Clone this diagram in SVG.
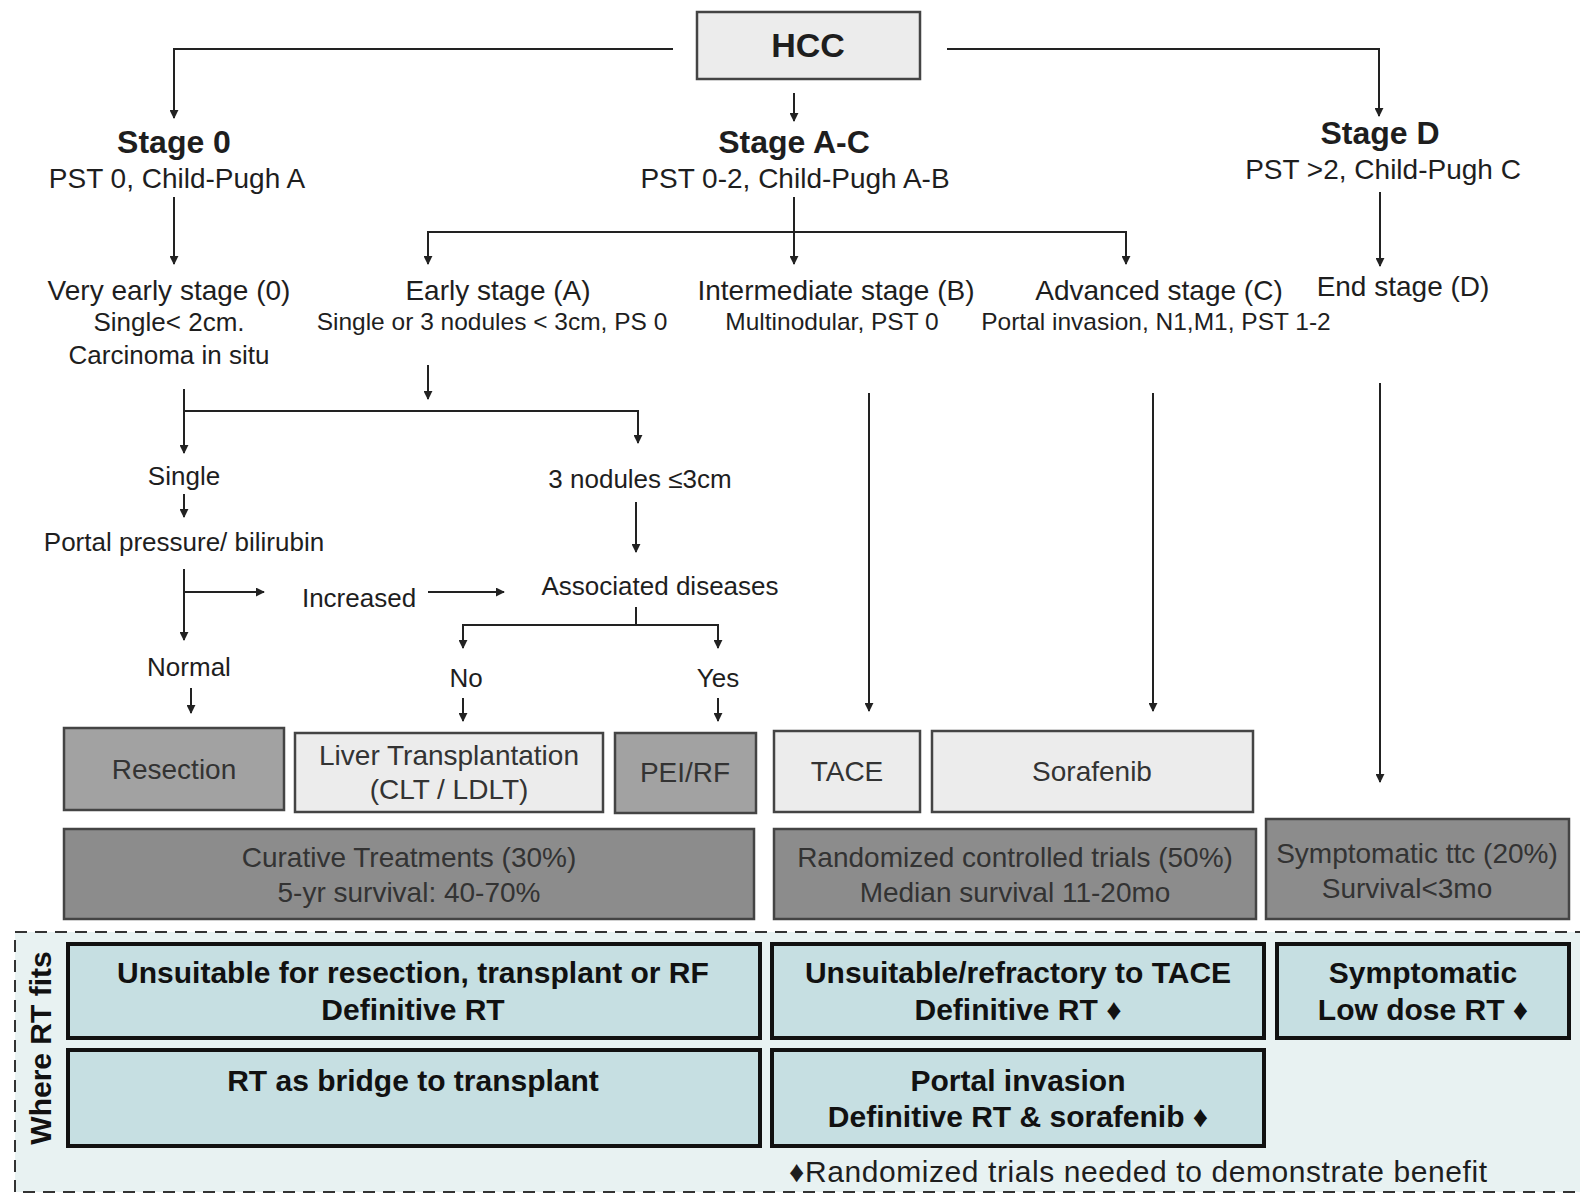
<svg xmlns="http://www.w3.org/2000/svg" width="1580" height="1195" viewBox="0 0 1580 1195">
<defs>
<marker id="ah" viewBox="0 0 10 10" refX="9" refY="5" markerWidth="9" markerHeight="9" markerUnits="userSpaceOnUse" orient="auto">
<path d="M0,0 L10,5 L0,10 z" fill="#222"/>
</marker>
<style>
text{font-family:"Liberation Sans",Arial,Helvetica,sans-serif;text-anchor:middle;fill:#1e1e1e}
.b{font-weight:bold}
.t28{font-size:28px}
.t26{font-size:26px}
.t24{font-size:24.5px}
.h{font-size:32px;font-weight:bold}
.bx{font-size:28px;fill:#333}
.rt{font-size:30px;font-weight:bold;fill:#111}
.c{fill:none;stroke:#222;stroke-width:2}
.a{marker-end:url(#ah)}
.light{fill:#ececec;stroke:#444;stroke-width:2.5}
.mid{fill:#a2a2a2;stroke:#444;stroke-width:2.5}
.dark{fill:#8c8c8c;stroke:#444;stroke-width:2.5}
.blue{fill:#c6dfe2;stroke:#111;stroke-width:4}
</style>
</defs>
<rect width="1580" height="1195" fill="#fff"/>
<rect id="rt-zone" x="15" y="932" width="1580" height="260" fill="#e8f2f2" stroke="#333" stroke-width="2" stroke-dasharray="12,8"/>
<g id="connectors">
<path class="c a" d="M673 49 H174 V118"/>
<path class="c a" d="M947 49 H1379 V116"/>
<path class="c a" d="M794 93 V121"/>
<path class="c a" d="M174 197 V264"/>
<path class="c a" d="M794 197 V264"/>
<path class="c a" d="M794 232 H428 V264"/>
<path class="c a" d="M794 232 H1126 V264"/>
<path class="c a" d="M1380 192 V266"/>
<path class="c a" d="M428 365 V399"/>
<path class="c a" d="M184 389 V453"/>
<path class="c a" d="M184 411 H638 V443"/>
<path class="c a" d="M184 494 V517"/>
<path class="c a" d="M636 502 V552"/>
<path class="c a" d="M184 569 V640"/>
<path class="c a" d="M184 592 H264"/>
<path class="c a" d="M428 592 H504"/>
<path class="c" d="M636 607 V625"/>
<path class="c a" d="M636 625 H463 V648"/>
<path class="c a" d="M636 625 H718 V648"/>
<path class="c a" d="M191 688 V713"/>
<path class="c a" d="M463 698 V721"/>
<path class="c a" d="M718 698 V721"/>
<path class="c a" d="M869 393 V711"/>
<path class="c a" d="M1153 393 V711"/>
<path class="c a" d="M1380 383 V782"/>
</g>
<g id="hcc"><rect class="light" x="697" y="12" width="223" height="67"/><text class="b" x="808" y="57" font-size="34">HCC</text></g>
<g id="stage0"><text class="h" x="174" y="153">Stage 0</text><text class="t28" x="177" y="188">PST 0, Child-Pugh A</text></g>
<g id="stageAC"><text class="h" x="794" y="153">Stage A-C</text><text class="t28" x="795" y="188">PST 0-2, Child-Pugh A-B</text></g>
<g id="stageD"><text class="h" x="1380" y="144">Stage D</text><text class="t28" x="1383" y="179">PST &gt;2, Child-Pugh C</text></g>
<g id="very-early"><text class="t28" x="169" y="300">Very early stage (0)</text><text class="t26" x="169" y="331">Single&lt; 2cm.</text><text class="t26" x="169" y="364">Carcinoma in situ</text></g>
<g id="early"><text class="t28" x="498" y="300">Early stage (A)</text><text class="t24" x="492" y="330">Single or 3 nodules &lt; 3cm, PS 0</text></g>
<g id="intermediate"><text class="t28" x="836" y="300">Intermediate stage (B)</text><text class="t24" x="832" y="330">Multinodular, PST 0</text></g>
<g id="advanced"><text class="t28" x="1159" y="300">Advanced stage (C)</text><text class="t24" x="1156" y="330">Portal invasion, N1,M1, PST 1-2</text></g>
<g id="end-stage"><text class="t28" x="1403" y="296">End stage (D)</text></g>
<g id="single"><text class="t26" x="184" y="485">Single</text></g>
<g id="portal-pressure"><text class="t26" x="184" y="551">Portal pressure/ bilirubin</text></g>
<g id="three-nodules"><text class="t26" x="640" y="488">3 nodules ≤3cm</text></g>
<g id="associated"><text class="t26" x="660" y="595">Associated diseases</text></g>
<g id="increased"><text class="t26" x="359" y="607">Increased</text></g>
<g id="normal"><text class="t26" x="189" y="676">Normal</text></g>
<g id="no"><text class="t26" x="466" y="687">No</text></g>
<g id="yes"><text class="t26" x="718" y="687">Yes</text></g>
<g id="resection"><rect class="mid" x="64" y="728" width="220" height="82"/><text class="bx" x="174" y="779">Resection</text></g>
<g id="liver-tx"><rect class="light" x="295" y="733" width="308" height="79"/><text class="bx" x="449" y="765">Liver Transplantation</text><text class="bx" x="449" y="799">(CLT / LDLT)</text></g>
<g id="pei-rf"><rect class="mid" x="615" y="733" width="141" height="80"/><text class="bx" x="685" y="782">PEI/RF</text></g>
<g id="tace"><rect class="light" x="774" y="731" width="146" height="81"/><text class="bx" x="847" y="781">TACE</text></g>
<g id="sorafenib"><rect class="light" x="932" y="731" width="321" height="81"/><text class="bx" x="1092" y="781">Sorafenib</text></g>
<g id="curative"><rect class="dark" x="64" y="829" width="690" height="90"/><text class="bx" x="409" y="867">Curative Treatments (30%)</text><text class="bx" x="409" y="902">5-yr survival: 40-70%</text></g>
<g id="rct"><rect class="dark" x="774" y="829" width="482" height="90"/><text class="bx" x="1015" y="867">Randomized controlled trials (50%)</text><text class="bx" x="1015" y="902">Median survival 11-20mo</text></g>
<g id="symptomatic-ttc"><rect class="dark" x="1266" y="819" width="303" height="100"/><text class="bx" x="1417" y="863">Symptomatic ttc (20%)</text><text class="bx" x="1407" y="898">Survival&lt;3mo</text></g>
<g id="where-rt"><text class="rt" transform="translate(51,1048) rotate(-90)">Where RT fits</text></g>
<g id="rt-unsuitable"><rect class="blue" x="68" y="944" width="692" height="94"/><text class="rt" x="413" y="983">Unsuitable for resection, transplant or RF</text><text class="rt" x="413" y="1020">Definitive RT</text></g>
<g id="rt-bridge"><rect class="blue" x="68" y="1050" width="692" height="96"/><text class="rt" x="413" y="1091">RT as bridge to transplant</text></g>
<g id="rt-tace"><rect class="blue" x="772" y="944" width="492" height="94"/><text class="rt" x="1018" y="983">Unsuitable/refractory to TACE</text><text class="rt" x="1018" y="1020">Definitive RT ♦</text></g>
<g id="rt-portal"><rect class="blue" x="772" y="1050" width="492" height="96"/><text class="rt" x="1018" y="1091">Portal invasion</text><text class="rt" x="1018" y="1127">Definitive RT &amp; sorafenib ♦</text></g>
<g id="rt-symptomatic"><rect class="blue" x="1277" y="944" width="292" height="94"/><text class="rt" x="1423" y="983">Symptomatic</text><text class="rt" x="1423" y="1020">Low dose RT ♦</text></g>
<g id="footnote"><text x="789" y="1182" font-size="30" textLength="698" style="text-anchor:start">♦Randomized trials needed to demonstrate benefit</text></g>
</svg>
